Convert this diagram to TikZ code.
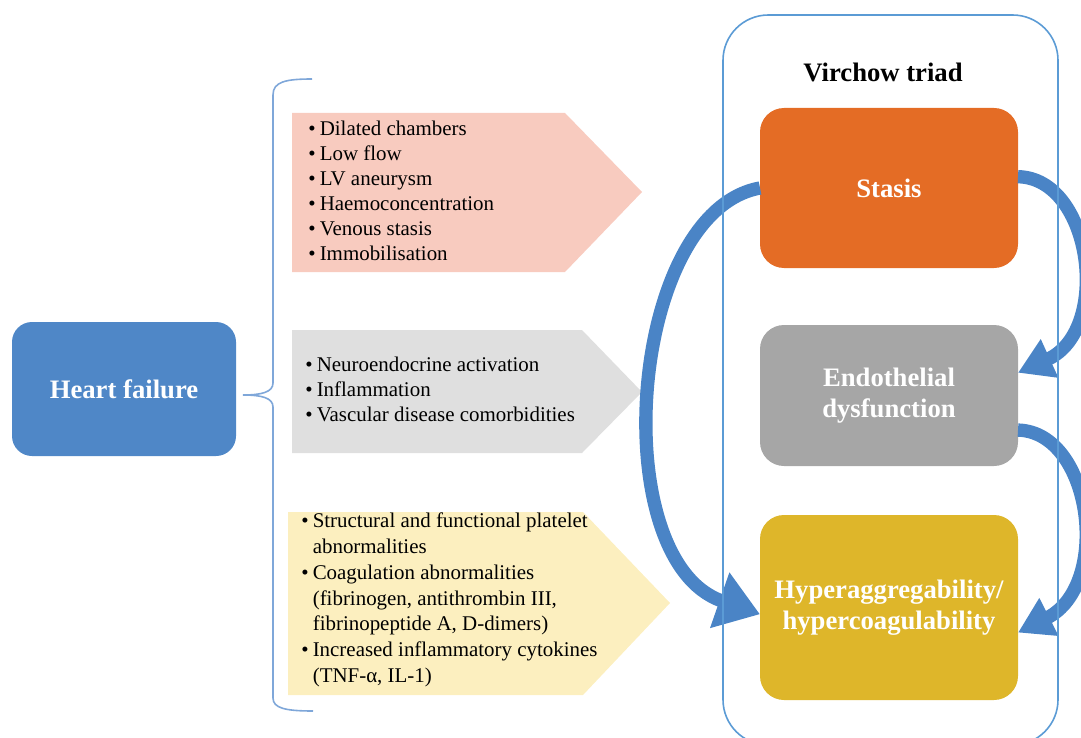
\documentclass[tikz,border=0pt]{standalone}
\usepackage{fontspec}
\setmainfont{Liberation Serif}
\usetikzlibrary{positioning,arrows.meta}
\definecolor{HeartBlue}{HTML}{4F87C7}
\definecolor{ArrowBlue}{HTML}{4A84C6}
\definecolor{FrameBlue}{HTML}{5B9BD5}
\definecolor{BraceBlue}{HTML}{7FA7D9}
\definecolor{StasisOrange}{HTML}{E46C25}
\definecolor{EndoGrey}{HTML}{A6A6A6}
\definecolor{HyperGold}{HTML}{DEB62A}
\definecolor{SoftPink}{HTML}{F8CBBF}
\definecolor{SoftGrey}{HTML}{DFDFDF}
\definecolor{SoftYellow}{HTML}{FCEFBF}
\newcommand{\bl}{\makebox[0.55em][l]{\textbullet}}
\newcommand{\ind}{\hspace*{0.55em}}

\begin{document}
\begin{tikzpicture}[x=0.75pt,y=-0.75pt,
  box/.style={rounded corners=18pt,minimum width=193.5pt,align=center,text=white,
    font=\fontsize{20}{23.5}\selectfont\bfseries,outer sep=0pt},
  blist/.style={anchor=west,align=left,inner sep=0pt,font=\fontsize{15.7}{18.75}\selectfont},
  triadarrow/.style={ArrowBlue,line width=10pt}]
  \useasboundingbox (0,0) rectangle (1081,738);

  % heart failure and the brace
  \node[box,fill=HeartBlue,minimum width=168pt,minimum height=100.5pt,rounded corners=15pt] (hf) at (124,389) {Heart failure};
  \draw[BraceBlue,line width=1.2pt] (312,79) .. controls (285,79) and (273,82) .. (273,95) -- (273,383)
    .. controls (273,392) and (262,395) .. (243,395) .. controls (262,395) and (273,398) .. (273,407)
    -- (273,698) .. controls (273,708) and (285,711) .. (313,711);

  % the three pentagons
  \fill[SoftPink] (292,113) -- (565,113) -- (642,192) -- (565,272) -- (292,272) -- cycle;
  \fill[SoftGrey] (292,330) -- (582,330) -- (642,392) -- (582,453) -- (292,453) -- cycle;
  \fill[SoftYellow] (288,512) -- (583,512) -- (670,603) -- (583,695) -- (288,695) -- cycle;

  \node[blist] (pinklist) at (308,190.5)
    {\bl Dilated chambers\\\bl Low flow\\\bl LV aneurysm\\\bl Haemoconcentration\\\bl Venous stasis\\\bl Immobilisation};
  \node[blist] (greylist) at (305,389.5)
    {\bl Neuroendocrine activation\\\bl Inflammation\\\bl Vascular disease comorbidities};
  \node[blist,font=\fontsize{15.7}{19.3}\selectfont] (yellowlist) at (301,600)
    {\bl Structural and functional platelet\\\ind abnormalities\\\bl Coagulation abnormalities\\\ind (fibrinogen, antithrombin III,\\\ind fibrinopeptide A, D-dimers)\\\bl Increased inflammatory  cytokines\\\ind (TNF-α, IL-1)};

  % virchow triad
  \node[font=\fontsize{20}{24}\selectfont\bfseries] (title) at (883,72) {Virchow triad};
  \node[box,fill=StasisOrange,minimum height=120pt] (stasis) at (889,188) {Stasis};
  \node[box,fill=EndoGrey,minimum height=105.75pt,below=42.75pt of stasis] (endo) {Endothelial\\dysfunction};
  \node[box,fill=HyperGold,minimum height=138.75pt,below=36.75pt of endo] (hyper) {Hyperaggregability/\\hypercoagulability};

  \draw[triadarrow,-{Triangle[length=32pt,width=42pt]}] (stasis.west) .. controls (628,212) and (604,560) .. (hyper.183);
  \draw[triadarrow,-{Triangle[length=26pt,width=30pt]}] (stasis.5) .. controls (1092,178) and (1112,330) .. (endo.10);
  \draw[triadarrow,-{Triangle[length=26pt,width=30pt]}] (endo.-15) .. controls (1092,432) and (1112,585) .. (hyper.-11);

  \node[draw=FrameBlue,line width=1.2pt,rounded corners=34pt,minimum width=251.25pt,minimum height=547.5pt] (frame) at (890.5,380) {};
\end{tikzpicture}
\end{document}
